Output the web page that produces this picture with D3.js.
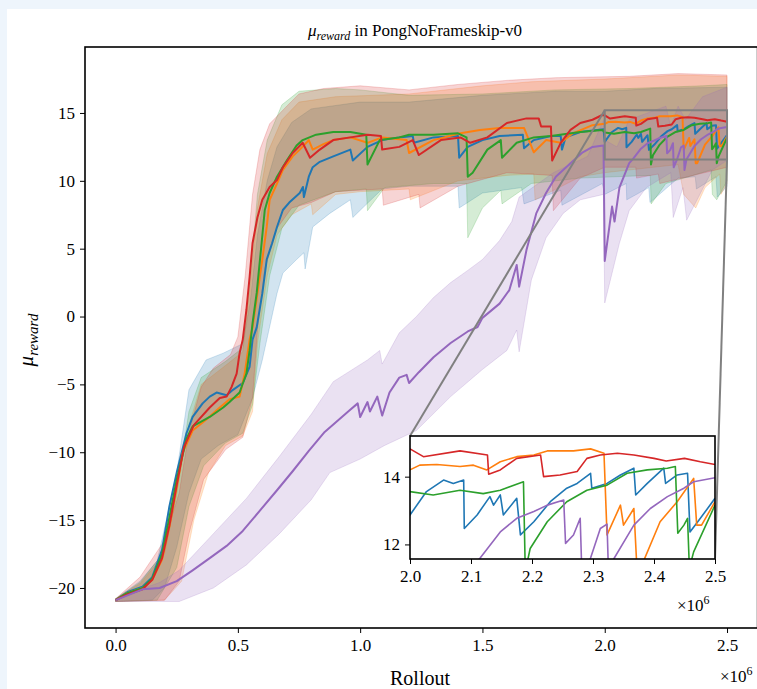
<!DOCTYPE html>
<html>
<head>
<meta charset="utf-8">
<style>
  body { margin: 0; background: #eef5fc; }
  svg { display: block; }
  text { font-family: "Liberation Serif", "DejaVu Serif", serif; fill: #000; }
</style>
</head>
<body>
<script src="https://cdn.jsdelivr.net/npm/d3@7/dist/d3.min.js"></script>
<script>

// x in units of 1e6 rollouts, y = mean reward
var xTicks = [0.0, 0.5, 1.0, 1.5, 2.0, 2.5];
var yTicks = [-20, -15, -10, -5, 0, 5, 10, 15];
var insetXTicks = [2.0, 2.1, 2.2, 2.3, 2.4, 2.5];
var insetYTicks = [12, 14];

var blueMean = [[0,-20.9],[0.05,-20.3],[0.11,-19.9],[0.15,-19.2],[0.19,-17.2],[0.22,-14],[0.25,-11.5],[0.29,-8.6],[0.315,-7.4],[0.356,-6.4],[0.385,-5.9],[0.413,-5.6],[0.454,-5.8],[0.48,-5.4],[0.52,-4.9],[0.548,-3.7],[0.56,-1.7],[0.577,-0.8],[0.6,1.7],[0.618,4.2],[0.64,5.4],[0.66,6.6],[0.684,7.85],[0.71,8.4],[0.753,9.1],[0.766,9.55],[0.77,8.8],[0.79,10.3],[0.806,11.0],[0.835,11.4],[0.89,11.8],[0.96,12.3],[0.97,11.5],[1.03,12.5],[1.09,13.0],[1.16,13.2],[1.215,13.3],[1.22,12.8],[1.3,13.2],[1.4,13.3],[1.405,11.7],[1.44,12.5],[1.5,13.0],[1.57,13.3],[1.665,13.4],[1.67,12.4],[1.71,13.0],[1.78,13.3],[1.82,13.3],[1.825,12.3],[1.84,13.2],[1.9,13.6],[1.995,13.8],[2.0,12.87],[2.027,13.56],[2.055,13.9],[2.071,13.8],[2.088,13.9],[2.089,12.47],[2.11,12.87],[2.131,13.41],[2.137,13.16],[2.148,13.46],[2.153,12.87],[2.175,13.36],[2.181,12.28],[2.203,12.67],[2.23,13.26],[2.257,13.66],[2.274,13.8],[2.296,14.1],[2.298,13.66],[2.323,13.8],[2.345,14.05],[2.367,14.25],[2.37,13.46],[2.389,13.8],[2.416,14.25],[2.419,13.8],[2.438,14.05],[2.455,14.1],[2.459,12.37],[2.476,12.77],[2.5,13.36]];
var blueLow = [[0,-21],[0.15,-20.9],[0.2,-20],[0.25,-17],[0.3,-13],[0.35,-10.5],[0.42,-9.5],[0.5,-8.7],[0.56,-6],[0.6,-3.2],[0.66,1.7],[0.684,3.2],[0.74,4.2],[0.77,4.7],[0.775,3.5],[0.806,6.6],[0.876,7.6],[0.96,8.6],[0.97,7.3],[1.09,9.4],[1.2,9.6],[1.4,9.6],[1.405,8.0],[1.5,9.1],[1.66,9.5],[1.67,8.3],[1.82,9.3],[1.825,8.2],[1.99,9.8],[2.0,9.0],[2.088,9.8],[2.09,8.6],[2.18,9.5],[2.185,8.4],[2.3,10.2],[2.37,10.3],[2.375,9.4],[2.455,10.3],[2.46,8.8],[2.5,9.6]];
var blueHigh = [[0,-20.8],[0.1,-19.5],[0.17,-18],[0.22,-14],[0.25,-11.5],[0.3,-5.4],[0.37,-3.2],[0.44,-2.7],[0.52,-2.0],[0.55,1],[0.58,6],[0.62,10],[0.66,12.5],[0.72,14.3],[0.8,15.3],[1.0,15.8],[1.2,15.8],[1.5,16.3],[1.8,16.6],[2.0,16.6],[2.2,16.8],[2.5,16.9]];

var orangeMean = [[0,-20.9],[0.045,-20.4],[0.11,-20.0],[0.15,-19.4],[0.19,-17.9],[0.22,-15.5],[0.25,-12.6],[0.275,-10.0],[0.315,-8.4],[0.37,-7.6],[0.426,-6.7],[0.466,-6.1],[0.507,-5.9],[0.528,-4.2],[0.548,-1.7],[0.56,-0.8],[0.58,1.7],[0.6,4.2],[0.618,6.6],[0.63,8.6],[0.66,9.8],[0.684,10.8],[0.724,11.8],[0.753,12.3],[0.78,12.8],[0.79,13.0],[0.806,12.3],[0.85,12.7],[0.89,13.0],[0.96,13.2],[1.03,12.8],[1.09,13.2],[1.19,13.0],[1.2,12.05],[1.3,13.0],[1.41,13.5],[1.49,13.75],[1.57,13.9],[1.67,13.9],[1.71,12.1],[1.76,13.0],[1.82,12.8],[1.87,13.5],[1.95,14.1],[2.0,14.2],[2.016,14.34],[2.044,14.36],[2.082,14.3],[2.104,14.34],[2.126,14.2],[2.148,14.44],[2.175,14.59],[2.203,14.64],[2.225,14.76],[2.268,14.76],[2.296,14.82],[2.318,14.69],[2.323,12.28],[2.345,13.16],[2.35,12.57],[2.367,13.06],[2.372,11.3],[2.378,11.3],[2.41,12.67],[2.438,13.26],[2.465,13.95],[2.47,12.57],[2.478,12.57],[2.5,13.26]];
var orangeLow = [[0,-21],[0.2,-20.9],[0.27,-19.5],[0.32,-15],[0.38,-11.5],[0.45,-9.5],[0.52,-8.8],[0.56,-7],[0.58,-2],[0.62,3],[0.66,6],[0.72,7.5],[0.8,8.3],[0.806,7.5],[0.9,9.0],[1.0,9.2],[1.2,9.4],[1.205,8.6],[1.4,10.0],[1.6,10.4],[1.71,10.5],[1.715,8.6],[1.9,10.3],[2.0,10.6],[2.3,11.2],[2.323,9.0],[2.372,8.0],[2.41,9.5],[2.47,10.5],[2.475,9.0],[2.5,9.8]];
var orangeHigh = [[0,-20.8],[0.1,-19.7],[0.2,-17.5],[0.25,-13],[0.3,-8],[0.35,-5],[0.45,-3.6],[0.52,-2.6],[0.55,2],[0.58,8],[0.62,12],[0.68,14.5],[0.75,15.8],[0.9,16.2],[1.2,16.4],[1.5,17.0],[1.7,17.3],[2.0,17.5],[2.3,17.8],[2.5,17.7]];

var greenMean = [[0,-20.9],[0.045,-20.4],[0.11,-20.0],[0.15,-19.3],[0.19,-17.5],[0.22,-14.8],[0.25,-12.0],[0.29,-9.0],[0.315,-8.1],[0.385,-7.4],[0.44,-6.7],[0.466,-6.3],[0.507,-5.6],[0.535,-4.2],[0.548,-2.5],[0.56,-0.5],[0.577,1.74],[0.597,5.4],[0.61,7.85],[0.63,9.1],[0.66,10.3],[0.7,11.5],[0.74,12.6],[0.765,13.0],[0.82,13.4],[0.89,13.6],[0.96,13.6],[1.025,13.4],[1.03,11.2],[1.08,13.0],[1.16,13.2],[1.2,13.4],[1.3,13.4],[1.4,13.5],[1.435,13.2],[1.44,10.3],[1.46,10.6],[1.52,12.3],[1.575,13.0],[1.58,11.7],[1.64,12.8],[1.71,13.2],[1.78,13.3],[1.9,13.6],[1.99,13.75],[2.0,13.56],[2.038,13.46],[2.082,13.6],[2.12,13.5],[2.148,13.6],[2.186,13.85],[2.189,11.2],[2.197,11.88],[2.225,12.67],[2.257,13.26],[2.29,13.6],[2.323,13.75],[2.356,14.1],[2.389,14.2],[2.422,14.25],[2.435,14.3],[2.439,12.33],[2.449,12.57],[2.455,12.77],[2.458,11.3],[2.465,11.78],[2.5,13.16]];
var greenLow = [[0,-21],[0.17,-20.9],[0.25,-18.5],[0.3,-14],[0.36,-11],[0.45,-9.3],[0.52,-8.6],[0.56,-6.5],[0.59,-2],[0.63,3],[0.68,6.5],[0.75,8.2],[0.9,9.2],[1.025,9.4],[1.03,7.8],[1.1,9.5],[1.3,9.8],[1.435,9.8],[1.44,5.8],[1.5,8.0],[1.575,9.3],[1.58,8.3],[1.7,9.8],[1.9,10.2],[2.186,10.4],[2.19,8.3],[2.25,9.8],[2.435,10.8],[2.44,9.0],[2.458,8.6],[2.5,10.0]];
var greenHigh = [[0,-20.8],[0.1,-19.6],[0.2,-17.3],[0.25,-13],[0.3,-7],[0.35,-4.5],[0.45,-3.3],[0.52,-2.3],[0.55,2.5],[0.58,9],[0.62,13],[0.68,15.6],[0.75,16.6],[0.9,16.8],[1.0,16.7],[1.2,16.3],[1.5,16.4],[1.8,16.7],[2.1,16.8],[2.4,17.0],[2.5,17.1]];

var redMean = [[0,-20.9],[0.045,-20.5],[0.11,-20.1],[0.15,-19.4],[0.19,-17.8],[0.22,-15.4],[0.25,-12.4],[0.28,-9.6],[0.32,-8.0],[0.385,-6.7],[0.426,-6.0],[0.454,-5.9],[0.474,-5.2],[0.495,-4.2],[0.507,-2.7],[0.52,-1.7],[0.535,0.5],[0.548,2.9],[0.56,5.4],[0.58,7.3],[0.6,8.6],[0.63,9.55],[0.66,10.06],[0.684,11.0],[0.724,12.05],[0.765,12.8],[0.795,11.7],[0.835,12.3],[0.89,13.0],[0.96,13.2],[1.03,13.4],[1.085,13.3],[1.09,12.3],[1.16,12.5],[1.215,13.0],[1.24,11.9],[1.33,13.0],[1.41,13.2],[1.45,12.8],[1.52,13.2],[1.6,14.26],[1.68,14.6],[1.73,14.6],[1.74,14.0],[1.78,14.0],[1.785,11.5],[1.82,12.8],[1.86,13.75],[1.9,14.26],[1.95,14.5],[1.99,14.85],[2.0,14.82],[2.022,14.59],[2.082,14.76],[2.127,14.64],[2.129,14.07],[2.148,14.2],[2.175,14.54],[2.214,14.64],[2.219,14.0],[2.246,14.05],[2.274,14.15],[2.29,14.54],[2.312,14.64],[2.34,14.69],[2.367,14.64],[2.4,14.54],[2.42,14.46],[2.45,14.54],[2.476,14.44],[2.5,14.36]];
var redLow = [[0,-21],[0.2,-20.9],[0.26,-19.5],[0.3,-16],[0.36,-12],[0.45,-9.8],[0.52,-8.9],[0.56,-6],[0.58,-1],[0.61,3.5],[0.66,6.5],[0.72,8],[0.8,8.4],[0.9,9.2],[1.09,9.4],[1.095,8.2],[1.24,9.0],[1.245,8.0],[1.4,9.6],[1.6,10.6],[1.785,10.4],[1.79,7.8],[1.9,10.2],[2.0,11.0],[2.127,11.0],[2.13,10.2],[2.219,10.5],[2.225,9.8],[2.5,11.0]];
var redHigh = [[0,-20.8],[0.1,-19.2],[0.2,-16.5],[0.26,-13],[0.3,-8.5],[0.35,-5.2],[0.4,-3.8],[0.47,-2.8],[0.5,-1.5],[0.53,3],[0.56,9],[0.59,12.3],[0.63,14.2],[0.7,15.5],[0.75,16.4],[0.85,16.8],[1.0,17.0],[1.2,16.7],[1.4,17.1],[1.6,17.4],[1.8,17.6],[2.1,17.7],[2.3,17.9],[2.5,17.8]];

var purpleMean = [[0,-20.9],[0.11,-20.1],[0.18,-20.0],[0.25,-19.5],[0.315,-18.7],[0.385,-17.8],[0.454,-16.9],[0.52,-15.8],[0.59,-14.3],[0.66,-12.8],[0.724,-11.4],[0.79,-9.9],[0.855,-8.5],[0.957,-6.9],[0.99,-6.4],[1.0,-7.4],[1.03,-6.3],[1.04,-7.0],[1.07,-5.9],[1.09,-7.3],[1.12,-5.6],[1.16,-4.5],[1.19,-4.3],[1.2,-4.9],[1.24,-4.1],[1.3,-3.0],[1.37,-1.95],[1.44,-1.1],[1.48,-0.77],[1.5,-0.1],[1.57,0.95],[1.61,1.95],[1.64,3.8],[1.65,2.2],[1.68,4.9],[1.72,7.6],[1.76,9.1],[1.8,10.3],[1.86,11.3],[1.91,12.1],[1.95,12.5],[1.995,12.6],[2.0,4.1],[2.03,8.1],[2.04,7.0],[2.06,9.5],[2.1,11.3],[2.115,11.6],[2.148,12.37],[2.175,12.77],[2.203,12.97],[2.225,13.16],[2.252,13.31],[2.255,12.03],[2.268,12.28],[2.279,12.77],[2.282,11.0],[2.296,11.6],[2.312,12.47],[2.323,12.6],[2.326,10.8],[2.334,11.57],[2.367,12.57],[2.394,13.06],[2.422,13.41],[2.449,13.66],[2.465,13.85],[2.5,13.97]];
var purpleLow = [[0,-21],[0.26,-21],[0.4,-20],[0.535,-18.3],[0.67,-16],[0.8,-13.5],[0.876,-11.5],[1.0,-10.5],[1.1,-9.5],[1.23,-8.4],[1.37,-5.9],[1.5,-3.9],[1.6,-2.5],[1.64,-1.0],[1.65,-2.6],[1.7,2.7],[1.76,5.8],[1.83,7.6],[1.9,8.6],[1.995,9.0],[2.0,1.0],[2.06,5.4],[2.1,7.8],[2.17,9.5],[2.27,10.6],[2.28,7.3],[2.32,9.5],[2.335,7.1],[2.44,10.8],[2.5,11.5]];
var purpleHigh = [[0,-20.8],[0.1,-20.1],[0.18,-19.6],[0.26,-18.7],[0.4,-16],[0.535,-13.4],[0.67,-10.3],[0.8,-7.2],[0.89,-4.8],[1.03,-3.2],[1.08,-2.5],[1.09,-3.5],[1.16,-1.2],[1.23,0],[1.3,1.4],[1.37,2.5],[1.44,3.4],[1.5,4.2],[1.57,5.6],[1.62,7.0],[1.65,8.8],[1.79,10.6],[1.93,11.8],[1.995,14.5],[2.0,13.0],[2.05,12.5],[2.1,14.5],[2.25,15.5],[2.27,14.0],[2.3,15.5],[2.33,14.5],[2.4,16.2],[2.5,16.9]];

var series = [
  {color: "#1f77b4", mean: blueMean, lo: blueLow, hi: blueHigh},
  {color: "#ff7f0e", mean: orangeMean, lo: orangeLow, hi: orangeHigh},
  {color: "#2ca02c", mean: greenMean, lo: greenLow, hi: greenHigh},
  {color: "#d62728", mean: redMean, lo: redLow, hi: redHigh},
  {color: "#9467bd", mean: purpleMean, lo: purpleLow, hi: purpleHigh}
];

var W = 757, H = 689;
var box = {left: 85, top: 47, right: 757.6, bottom: 628};
var inBox = {left: 410, top: 436, right: 715, bottom: 559};

var x = d3.scaleLinear().domain([-0.125, 2.625]).range([box.left, box.right]);
var y = d3.scaleLinear().domain([-22.95, 19.86]).range([box.bottom, box.top]);

var xi = d3.scaleLinear().domain([2.0, 2.5]).range([inBox.left, inBox.right]);
var yi = d3.scaleLinear().domain([11.57, 15.2]).range([inBox.bottom, inBox.top]);

var minus = function(d) { return d < 0 ? "\u2212" + Math.abs(d) : "" + d; };

var svg = d3.select("body").append("svg")
    .attr("width", W)
    .attr("height", H);

svg.append("rect")
    .attr("x", 7).attr("y", 9)
    .attr("width", W - 7).attr("height", H - 9)
    .attr("fill", "#fff");

var defs = svg.append("defs");
defs.append("clipPath").attr("id", "clipMain").append("rect")
    .attr("x", box.left).attr("y", box.top)
    .attr("width", box.right - box.left).attr("height", box.bottom - box.top);
defs.append("clipPath").attr("id", "clipInset").append("rect")
    .attr("x", inBox.left).attr("y", inBox.top)
    .attr("width", inBox.right - inBox.left).attr("height", inBox.bottom - inBox.top);

var plot = svg.append("g").attr("clip-path", "url(#clipMain)");

var line = d3.line()
    .x(function(d) { return x(d[0]); })
    .y(function(d) { return y(d[1]); });

series.forEach(function(s) {
  var poly = s.hi.concat(s.lo.slice().reverse());
  plot.append("path")
      .attr("d", line(poly) + "Z")
      .attr("fill", s.color)
      .attr("fill-opacity", 0.2)
      .attr("stroke", s.color)
      .attr("stroke-opacity", 0.2)
      .attr("stroke-width", 1);
});

series.forEach(function(s) {
  plot.append("path")
      .attr("d", line(s.mean))
      .attr("fill", "none")
      .attr("stroke", s.color)
      .attr("stroke-width", 2)
      .attr("stroke-linejoin", "round");
});

// zoom indicator
plot.append("rect")
    .attr("x", x(2.0)).attr("y", y(15.2))
    .attr("width", x(2.5) - x(2.0)).attr("height", y(11.57) - y(15.2))
    .attr("fill", "none")
    .attr("stroke", "#808080")
    .attr("stroke-width", 2);

svg.append("line")
    .attr("x1", x(2.0)).attr("y1", y(15.2))
    .attr("x2", inBox.left).attr("y2", inBox.top)
    .attr("stroke", "#808080").attr("stroke-width", 2);
svg.append("line")
    .attr("x1", x(2.5)).attr("y1", y(11.57))
    .attr("x2", inBox.right).attr("y2", inBox.bottom)
    .attr("stroke", "#808080").attr("stroke-width", 2);

// main axes
var gx = svg.append("g")
    .attr("transform", "translate(0," + box.bottom + ")")
    .call(d3.axisBottom(x).tickValues(xTicks).tickFormat(d3.format(".1f")).tickSize(5).tickPadding(6));
var gy = svg.append("g")
    .attr("transform", "translate(" + box.left + ",0)")
    .call(d3.axisLeft(y).tickValues(yTicks).tickFormat(minus).tickSize(5).tickPadding(5));

[gx, gy].forEach(function(g) {
  g.select(".domain").remove();
  g.selectAll("text").style("font-family", "Liberation Serif").style("font-size", "17px").attr("fill", "#000");
  g.selectAll("line").attr("stroke", "#000").attr("stroke-width", 1);
});

svg.append("rect")
    .attr("x", box.left).attr("y", box.top)
    .attr("width", box.right - box.left).attr("height", box.bottom - box.top)
    .attr("fill", "none").attr("stroke", "#000").attr("stroke-width", 1.6);

// inset
var inset = svg.append("g");
inset.append("rect")
    .attr("x", inBox.left).attr("y", inBox.top)
    .attr("width", inBox.right - inBox.left).attr("height", inBox.bottom - inBox.top)
    .attr("fill", "#fff");

var lineIn = d3.line()
    .x(function(d) { return xi(d[0]); })
    .y(function(d) { return yi(d[1]); });

var inPlot = inset.append("g").attr("clip-path", "url(#clipInset)");
series.forEach(function(s) {
  inPlot.append("path")
      .attr("d", lineIn(s.mean))
      .attr("fill", "none")
      .attr("stroke", s.color)
      .attr("stroke-width", 1.6)
      .attr("stroke-linejoin", "round");
});

var gxi = inset.append("g")
    .attr("transform", "translate(0," + inBox.bottom + ")")
    .call(d3.axisBottom(xi).tickValues(insetXTicks).tickFormat(d3.format(".1f")).tickSize(5).tickPadding(6));
var gyi = inset.append("g")
    .attr("transform", "translate(" + inBox.left + ",0)")
    .call(d3.axisLeft(yi).tickValues(insetYTicks).tickFormat(d3.format("d")).tickSize(5).tickPadding(5));
[gxi, gyi].forEach(function(g) {
  g.select(".domain").remove();
  g.selectAll("text").style("font-family", "Liberation Serif").style("font-size", "17px").attr("fill", "#000");
  g.selectAll("line").attr("stroke", "#000").attr("stroke-width", 1);
});
inset.append("rect")
    .attr("x", inBox.left).attr("y", inBox.top)
    .attr("width", inBox.right - inBox.left).attr("height", inBox.bottom - inBox.top)
    .attr("fill", "none").attr("stroke", "#000").attr("stroke-width", 1.6);

function sci(g, px, py) {
  var t = g.append("text").attr("x", px).attr("y", py).style("font-size", "17px");
  t.append("tspan").text("\u00d710");
  t.append("tspan").attr("dy", -7).style("font-size", "12px").text("6");
}
sci(svg, 677, 611);
sci(svg, 720, 682);

// titles
var title = svg.append("text")
    .attr("x", 415).attr("y", 36)
    .attr("text-anchor", "middle")
    .style("font-size", "17px");
title.append("tspan").style("font-style", "italic").text("\u03bc");
title.append("tspan").attr("dy", 4).style("font-style", "italic").style("font-size", "12px").text("reward");
title.append("tspan").attr("dy", -4).text(" in PongNoFrameskip-v0");

svg.append("text")
    .attr("x", 420).attr("y", 685)
    .attr("text-anchor", "middle")
    .style("font-size", "20px")
    .text("Rollout");

var ylab = svg.append("text")
    .attr("transform", "translate(33,340) rotate(-90)")
    .attr("text-anchor", "middle")
    .style("font-size", "21px");
ylab.append("tspan").style("font-style", "italic").text("\u03bc");
ylab.append("tspan").attr("dy", 5).style("font-style", "italic").style("font-size", "15px").text("reward");

</script>
</body>
</html>
